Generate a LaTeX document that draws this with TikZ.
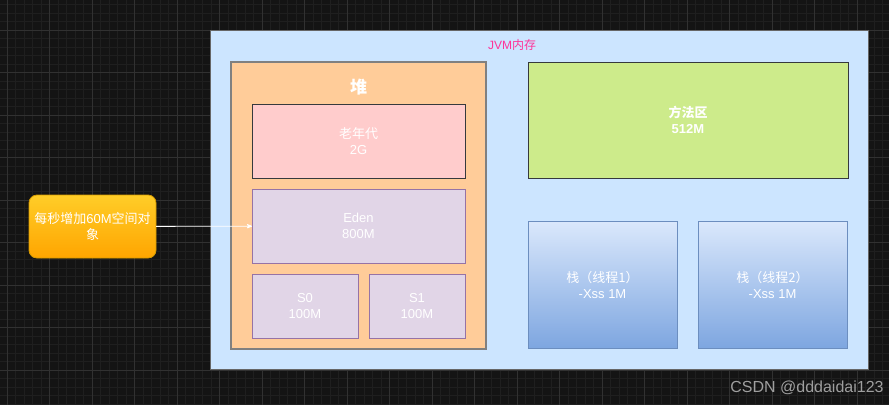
\documentclass[tikz,border=0pt]{standalone}
\usepackage{fontspec}
\setmainfont{Liberation Sans}
\newfontfamily\cjk{Noto Sans CJK SC}
\usetikzlibrary{arrows}

\definecolor{canvas}{HTML}{141414}
\definecolor{gridminor}{HTML}{1F1F1F}
\definecolor{gridmajor}{HTML}{313131}
\definecolor{jvmfill}{HTML}{CCE5FF}
\definecolor{heapfill}{HTML}{FFCC99}
\definecolor{oldfill}{HTML}{FFCCCC}
\definecolor{edenfill}{HTML}{E1D5E7}
\definecolor{edenline}{HTML}{9673A6}
\definecolor{methodfill}{HTML}{CDEB8B}
\definecolor{darkline}{HTML}{36393D}
\definecolor{stacktop}{HTML}{DAE8FC}
\definecolor{stackbot}{HTML}{7EA6E0}
\definecolor{stackline}{HTML}{6C8EBF}
\definecolor{srctop}{HTML}{FFCD28}
\definecolor{srcbot}{HTML}{FFA500}
\definecolor{srcline}{HTML}{D79B00}
\definecolor{titlepink}{HTML}{FF3399}

\begin{document}
\begin{tikzpicture}[x=1pt, y=-1pt,
   area/.style={rectangle, inner sep=0pt, outer sep=0pt, align=center,
      text=white, font=\fontsize{13}{16}\selectfont},
   jvmbox/.style={area, draw=gray!80!black, line width=1pt, fill=jvmfill},
   heapbox/.style={area, draw=gray, line width=1.5pt, fill=heapfill},
   oldbox/.style={area, draw=darkline, line width=1pt, fill=oldfill},
   genbox/.style={area, draw=edenline, line width=0.8pt, fill=edenfill},
   methodbox/.style={area, draw=darkline, line width=1pt, fill=methodfill,
      font=\fontsize{13}{16}\selectfont\bfseries},
   stackbox/.style={area, draw=stackline, line width=0.8pt,
      top color=stacktop, bottom color=stackbot},
   srcbox/.style={area, rounded corners=8pt, draw=srcline, line width=0.8pt,
      top color=srctop, bottom color=srcbot},
   transition/.style={-stealth', draw=white, line width=0.8pt}]

\useasboundingbox (0,0) rectangle (889,405);
% canvas and grid
\begin{scope}
\clip (0,0) rectangle (889,405);
\fill[canvas] (0,0) rectangle (889,405);
\foreach \i in {-1,...,105}
   \draw[gridminor, line width=0.6pt] (7+8.5*\i,0) -- (7+8.5*\i,405);
\foreach \i in {-3,...,44}
   \draw[gridminor, line width=0.6pt] (0,30+8.5*\i) -- (889,30+8.5*\i);
\foreach \i in {0,...,20}
   \draw[gridmajor, line width=0.8pt] (7+42.5*\i,0) -- (7+42.5*\i,405);
\foreach \i in {0,...,8}
   \draw[gridmajor, line width=0.8pt] (0,30+42.5*\i) -- (889,30+42.5*\i);
\end{scope}

\node[jvmbox, minimum width=658pt, minimum height=339pt] (jvm) at (539,199.5) {};
\node[text=titlepink, font=\fontsize{12}{14}\selectfont] (jvmtitle) at (512,45) {JVM{\cjk 内存}};

\node[heapbox, minimum width=255pt, minimum height=287pt] (heap) at (358.5,205.5) {};
\node[text=white, font=\fontsize{17}{20}\selectfont\cjk\bfseries] (heaptitle) at (358.5,87) {堆};

\node[oldbox, minimum width=213pt, minimum height=74pt] (old) at (358.5,141) {{\cjk 老年代}\\2G};
\node[genbox, minimum width=213pt, minimum height=74pt] (eden) at (358.5,226) {Eden\\800M};
\node[genbox, minimum width=106pt, minimum height=64pt] (s0) at (305,306) {S0\\100M};
\node[genbox, minimum width=96pt, minimum height=64pt] (s1) at (417,306) {S1\\100M};

\node[methodbox, minimum width=320pt, minimum height=116pt] (method) at (688,120) {{\cjk 方法区}\\512M};
\node[stackbox, minimum width=149pt, minimum height=127pt] (stack1) at (602.5,284.5) {{\cjk 栈（线程1）}\\ -Xss 1M};
\node[stackbox, minimum width=149pt, minimum height=127pt] (stack2) at (772.5,284.5) {{\cjk 栈（线程2）}\\ -Xss 1M};

\node[srcbox, minimum width=127pt, minimum height=63pt] (src) at (92.5,226.5) {{\cjk 每秒增加}60M{\cjk 空间对}\\{\cjk 象}};

\node[text=gray!75, font=\fontsize{16}{19}\selectfont] (mark) at (807,388) {CSDN @dddaidai123};

\path
    (src) edge[transition] (eden)
;

\end{tikzpicture}
\end{document}
